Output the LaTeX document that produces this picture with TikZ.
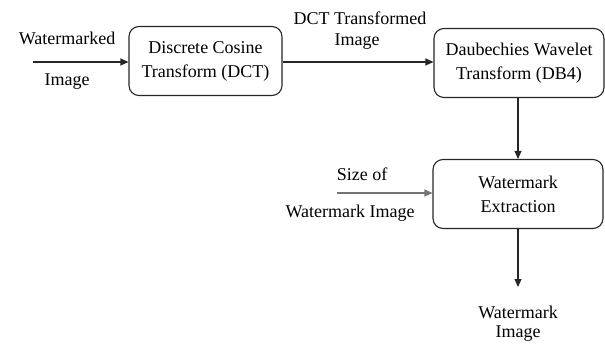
\documentclass[tikz,border=0pt]{standalone}
\usepackage{fontspec}
\setmainfont{Liberation Serif}
\usepackage{tikz}
\usetikzlibrary{positioning,arrows.meta}
\definecolor{linea}{gray}{.15}
\definecolor{gris}{gray}{.45}

\begin{document}
\begin{tikzpicture}[
    x=1pt, y=-1pt,
    font=\fontsize{18}{24}\selectfont,
    block/.style={rectangle, draw=linea, line width=1.1pt, rounded corners=10pt,
      align=center, minimum width=153pt, minimum height=69pt, inner sep=2pt},
    lbl/.style={align=center, inner sep=0pt},
    >={Triangle[length=8pt, width=7pt]}
  ]
    \useasboundingbox (0,0) rectangle (605,345);

    \node[block] (dct) at (205.5,61) {Discrete Cosine\\Transform (DCT)};
    \node[block, minimum width=170pt] (dbw) at (519,63) {Daubechies Wavelet\\Transform (DB4)};
    \node[block, minimum width=170pt] (ext) at (518,194) {Watermark\\Extraction};

    \coordinate (in) at (33,62);
    \coordinate (size) at (337,193);
    \coordinate (out) at (518,287);

    \node[lbl] (inA) at (67,38) {Watermarked};
    \node[lbl] (inB) at (67,82) {Image};
    \node[lbl] (midA) at (360,18) {DCT Transformed};
    \node[lbl] (midB) at (357,42) {Image};
    \node[lbl] (sizeA) at (362,174) {Size of};
    \node[lbl] (sizeB) at (350,213) {Watermark Image};
    \node[lbl] (outA) at (518,312) {Watermark};
    \node[lbl] (outB) at (518,334) {Image};

    \draw[->, line width=1.1pt, linea] (in) -- (in -| dct.west);
    \draw[->, line width=1.1pt, linea] (dct.east |- in) -- (in -| dbw.west);
    \draw[->, line width=1.1pt, linea] (dbw.south -| ext) -- (ext.north);
    \draw[->, line width=1.4pt, gris] (size) -- (size -| ext.west);
    \draw[->, line width=1.1pt, linea] (ext.south) -- (out);
  \end{tikzpicture}
\end{document}
